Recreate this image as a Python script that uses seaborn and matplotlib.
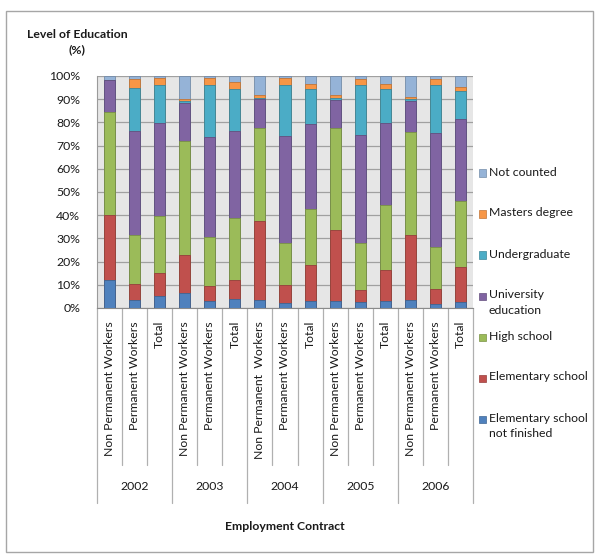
import matplotlib
matplotlib.use("Agg")
import matplotlib.pyplot as plt
import matplotlib.colors as mcolors
from matplotlib.patches import Rectangle
from matplotlib.ticker import PercentFormatter
import seaborn as sns
import pandas as pd
import numpy as np

years = ["2002", "2003", "2004", "2005", "2006"]
groups = ["Non Permanent Workers", "Permanent Workers", "Total"]
# 2004 label has a double space in the original
group_labels = [
    ["Non Permanent Workers", "Permanent Workers", "Total"],
    ["Non Permanent Workers", "Permanent Workers", "Total"],
    ["Non Permanent  Workers", "Permanent Workers", "Total"],
    ["Non Permanent Workers", "Permanent Workers", "Total"],
    ["Non Permanent Workers", "Permanent Workers", "Total"],
]

# percentages per bar, bottom to top
not_finished = [12.0, 3.6, 5.0, 6.5, 3.2, 3.9, 3.3, 2.2, 2.9, 2.9, 2.4, 2.9, 3.3, 1.9, 2.4]
elementary = [28.0, 6.6, 10.1, 16.5, 6.1, 8.3, 34.3, 7.8, 15.5, 30.8, 5.5, 13.6, 28.3, 6.3, 15.2]
high_school = [44.4, 21.1, 24.4, 48.9, 21.1, 26.4, 40.2, 18.0, 24.2, 44.1, 20.1, 28.0, 44.4, 18.1, 28.6]
university = [14.0, 44.9, 40.1, 16.3, 43.5, 37.9, 12.3, 46.2, 36.5, 11.9, 46.7, 35.4, 13.4, 49.3, 35.1]
undergraduate = [0.0, 18.8, 16.4, 0.9, 22.1, 18.0, 0.6, 22.1, 15.4, 0.7, 21.3, 14.4, 0.6, 20.4, 12.1]
masters = [0.0, 3.9, 3.1, 1.1, 3.1, 2.9, 1.3, 2.8, 2.2, 1.6, 2.6, 2.3, 1.1, 2.6, 2.0]
not_counted = [1.6, 1.1, 0.9, 9.8, 0.9, 2.6, 8.0, 0.9, 3.3, 8.0, 1.4, 3.4, 8.9, 1.4, 4.6]

series_names = [
    "Elementary school\nnot finished",
    "Elementary school",
    "High school",
    "University\neducation",
    "Undergraduate",
    "Masters degree",
    "Not counted",
]
series_values = [not_finished, elementary, high_school, university,
                 undergraduate, masters, not_counted]
colors = ["#4F81BD", "#C0504D", "#9BBB59", "#8064A2", "#4BACC6", "#F79646", "#95B3D7"]

sns.set_style("white")
plt.rcParams["font.family"] = ["Lato", "DejaVu Sans"]
TXT = "#1a1a1a"
FS = 8.8

keys = [f"{y}|{g}" for y in years for g in groups]
df = pd.DataFrame({"key": keys})
cum = np.zeros(len(keys))
for name, vals in zip(series_names, series_values):
    cum = cum + np.array(vals)
    df[name] = cum.copy()

W, H = 600, 556
fig = plt.figure(figsize=(W / 100, H / 100), dpi=100)
left, right, top, bottom = 97, 473, 76, 308
ax = fig.add_axes([left / W, 1 - bottom / H, (right - left) / W, (bottom - top) / H])
ax.set_facecolor("#E6E6E6")


def darker(c, f=0.78):
    r, g, b = mcolors.to_rgb(c)
    return (r * f, g * f, b * f)


# stacked bars: draw cumulative totals from the top down
for name, col in reversed(list(zip(series_names, colors))):
    sns.barplot(
        data=df,
        x="key",
        y=name,
        order=keys,
        color=col,
        saturation=1,
        width=0.44,
        edgecolor=darker(col),
        linewidth=0.6,
        errorbar=None,
        ax=ax,
        zorder=3,
    )

ax.set_xlim(-0.5, len(keys) - 0.5)
ax.set_ylim(0, 100)
ax.set_yticks(np.arange(0, 101, 10))
ax.yaxis.set_major_formatter(PercentFormatter(decimals=0))
ax.grid(True, axis="y", color="#A0A0A0", linewidth=0.9, zorder=0)
ax.set_axisbelow(True)
ax.set_xticks([])
ax.set_xlabel("")
ax.set_ylabel("")
for s in ["top", "right"]:
    ax.spines[s].set_visible(False)
ax.spines["left"].set_color("#9A9A9A")
ax.spines["bottom"].set_color("#8A8A8A")
ax.tick_params(axis="y", direction="out", length=5, width=0.8, color="#9A9A9A",
               labelsize=FS, labelcolor=TXT, pad=7)

# multi-level category axis
ph = bottom - top
trans = ax.get_xaxis_transform()
for i in range(len(keys) + 1):
    x = i - 0.5
    end = -(503 - bottom) / ph if i % 3 == 0 else -(465 - bottom) / ph
    ax.plot([x, x], [0, end], transform=trans, color="#B0B0B0", lw=0.9, clip_on=False)
for yi, yr in enumerate(years):
    for gi in range(3):
        xi = yi * 3 + gi
        ax.text(xi, -(321 - bottom) / ph, group_labels[yi][gi], transform=trans,
                rotation=90, ha="center", va="top", fontsize=FS, color=TXT)
    ax.text(yi * 3 + 1, -(487 - bottom) / ph, yr, transform=trans,
            ha="center", va="center", fontsize=FS, color=TXT)

# titles
fig.text(77 / W, 1 - 34 / H, "Level of Education", ha="center", va="center",
         fontsize=FS, fontweight="bold", color=TXT)
fig.text(77 / W, 1 - 50 / H, "(%)", ha="center", va="center",
         fontsize=FS, fontweight="bold", color=TXT)
fig.text(285 / W, 1 - 526 / H, "Employment Contract", ha="center", va="center",
         fontsize=FS, fontweight="bold", color=TXT)

# legend (top entry first, first line aligned with the marker)
leg_y = [173, 214, 255, 296, 337, 378, 419]
for yy, name, col in zip(leg_y, reversed(series_names), reversed(colors)):
    fig.patches.append(Rectangle(((479) / W, 1 - (yy + 3.5) / H), 7 / W, 7 / H,
                                 transform=fig.transFigure, facecolor=col,
                                 edgecolor=darker(col), lw=0.5))
    fig.text(489 / W, 1 - (yy - 6.5) / H, name, ha="left", va="top",
             fontsize=FS, color=TXT, linespacing=1.45)

# outer chart border
fig.patches.append(Rectangle((6 / W, 1 - 552 / H), (593 - 6) / W, (552 - 11) / H,
                             transform=fig.transFigure, fill=False,
                             edgecolor="#A6A6A6", lw=1.0))

fig.savefig("out.png", dpi=100)
